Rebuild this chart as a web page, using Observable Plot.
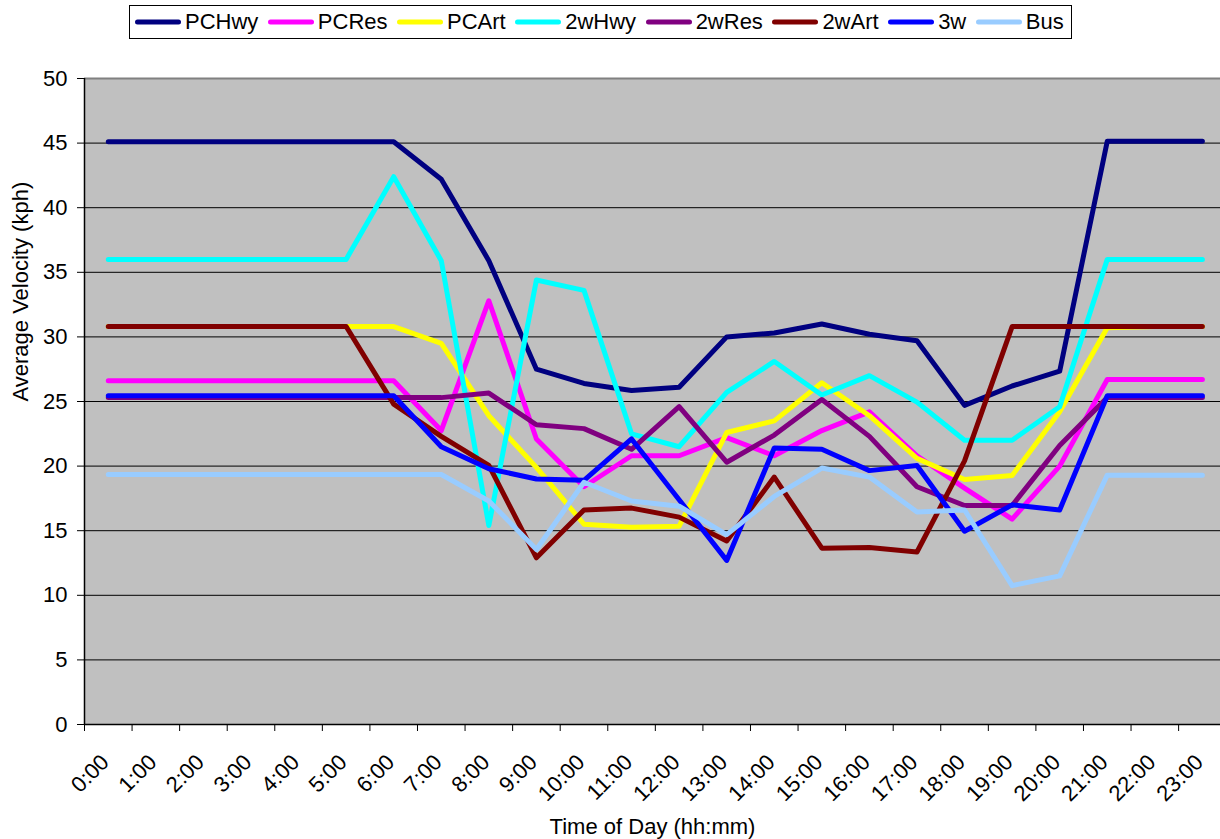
<!DOCTYPE html>
<html>
<head>
<meta charset="utf-8">
<script src="https://cdn.jsdelivr.net/npm/d3@7"></script>
<script src="https://cdn.jsdelivr.net/npm/@observablehq/plot@0.6"></script>
<style>
  html, body { margin: 0; padding: 0; background: #fff; overflow: hidden; }
  #wrap { position: relative; width: 1220px; height: 839px; font-family: "Liberation Sans", Arial, sans-serif; }
  #legend { position: absolute; left: 129px; top: 5px; width: 936px; height: 32px; border: 1px solid #000; background: #fff;
            display: flex; align-items: center; padding-left: 5px; box-sizing: content-box; font-size: 22px; color: #000; z-index: 2; }
  .item { display: flex; align-items: center; margin-right: 9.5px; white-space: nowrap; }
  .item svg { margin-right: 4px; }
  #chart { position: absolute; left: 0; top: 0; }
</style>
</head>
<body>
<div id="wrap">
  <div id="legend"></div>
  <div id="chart"></div>
</div>
<script>
const hours = ["0:00","1:00","2:00","3:00","4:00","5:00","6:00","7:00","8:00","9:00","10:00","11:00",
               "12:00","13:00","14:00","15:00","16:00","17:00","18:00","19:00","20:00","21:00","22:00","23:00"];
const seriesNames = ["PCHwy","PCRes","PCArt","2wHwy","2wRes","2wArt","3w","Bus"];
const seriesColors = ["#000080","#FF00FF","#FFFF00","#00FFFF","#800080","#800000","#0000FF","#99CCFF"];
const yTicks = [0,5,10,15,20,25,30,35,40,45,50];

const PCHwy = [45.1,45.1,45.1,45.1,45.1,45.1,45.1,42.2,35.9,27.5,26.4,25.85,26.1,30.0,30.3,31.0,30.2,29.7,24.7,26.2,27.35,45.15,45.15,45.15];
const PCRes = [26.6,26.6,26.6,26.6,26.6,26.6,26.6,22.75,32.8,22.1,18.4,20.8,20.8,22.2,20.8,22.75,24.2,20.8,18.3,15.9,20.0,26.7,26.7,26.7];
const PCArt = [30.8,30.8,30.8,30.8,30.8,30.8,30.8,29.5,23.9,19.9,15.5,15.27,15.35,22.6,23.5,26.45,23.9,20.6,18.96,19.27,24.2,30.7,30.8,30.8];
const TwHwy = [36.0,36.0,36.0,36.0,36.0,36.0,42.4,35.9,15.4,34.4,33.6,22.5,21.5,25.7,28.1,25.5,27.0,24.95,22.0,22.0,24.6,36.0,36.0,36.0];
const TwRes = [25.3,25.3,25.3,25.3,25.3,25.3,25.3,25.3,25.65,23.2,22.9,21.3,24.6,20.3,22.4,25.15,22.3,18.4,16.95,16.95,21.6,25.3,25.3,25.3];
const TwArt = [30.8,30.8,30.8,30.8,30.8,30.8,24.8,22.3,20.05,12.9,16.6,16.75,16.05,14.2,19.15,13.65,13.7,13.35,20.4,30.8,30.8,30.8,30.8,30.8];
const ThreeW = [25.45,25.45,25.45,25.45,25.45,25.45,25.45,21.5,19.8,19.0,18.9,22.1,17.4,12.7,21.4,21.3,19.65,20.05,14.96,17.0,16.6,25.45,25.45,25.45];
const Bus = [19.35,19.35,19.35,19.35,19.35,19.35,19.35,19.35,17.3,13.55,18.75,17.3,16.9,14.7,17.65,19.85,19.15,16.45,16.6,10.75,11.5,19.3,19.3,19.3];

const seriesValues = [PCHwy, PCRes, PCArt, TwHwy, TwRes, TwArt, ThreeW, Bus];

// long table: category centre = index + 0.5 on a linear category axis
const rows = seriesNames.flatMap((s, k) => seriesValues[k].map((v, i) => ({series: s, x: i + 0.5, v})));
const boundaries = d3.range(0, hours.length + 1);
const centers = hours.map((h, i) => i + 0.5);

const chart = Plot.plot({
  width: 1220,
  height: 839,
  marginLeft: 84,
  marginRight: 0,
  marginTop: 78,
  marginBottom: 115,
  style: {fontFamily: "'Liberation Sans', Arial, sans-serif", fontSize: "22px", background: "transparent", color: "#000", overflow: "visible"},
  x: {type: "linear", domain: [0, hours.length], range: [84, 84 + 47.57 * hours.length]},
  y: {domain: [0, 50], range: [724, 78]},
  color: {domain: seriesNames, range: seriesColors},
  marks: [
    Plot.frame({fill: "#C0C0C0", stroke: null}),
    Plot.ruleY(yTicks.filter(v => v > 0 && v < 50), {stroke: "#000", strokeWidth: 1}),
    Plot.ruleY([50], {stroke: "#808080", strokeWidth: 2}),
    Plot.line(rows, {x: "x", y: "v", z: "series", stroke: "series", strokeWidth: 5,
                     strokeLinejoin: "round", strokeLinecap: "round"}),
    Plot.ruleY([0], {stroke: "#000", strokeWidth: 1.5}),
    Plot.ruleX([0], {stroke: "#000", strokeWidth: 1.5}),
    Plot.axisY({ticks: yTicks, tickSize: 7, tickPadding: 10, label: null, fontSize: 22}),
    Plot.axisX({ticks: boundaries, tickSize: 7, tickFormat: () => "", label: null}),
    Plot.axisX({ticks: centers, tickSize: 0, tickPadding: 34, tickRotate: -45, dx: -3,
                tickFormat: d => hours[Math.floor(d)], label: null, fontSize: 22}),
    Plot.text(["Time of Day (hh:mm)"], {frameAnchor: "bottom", dy: 102, lineAnchor: "middle", fontSize: 22, fill: "#000"}),
    Plot.text(["Average Velocity (kph)"], {frameAnchor: "left", dx: -64, rotate: -90, lineAnchor: "middle", fontSize: 22, fill: "#000"})
  ]
});
document.getElementById("chart").appendChild(chart);

// legend
const legend = document.getElementById("legend");
seriesNames.forEach((s, k) => {
  const item = document.createElement("div");
  item.className = "item";
  item.innerHTML = `<svg width="46" height="10"><line x1="2.5" y1="5" x2="43.5" y2="5" stroke="${seriesColors[k]}" stroke-width="5" stroke-linecap="round"/></svg><span>${s}</span>`;
  legend.appendChild(item);
});
</script>
</body>
</html>
